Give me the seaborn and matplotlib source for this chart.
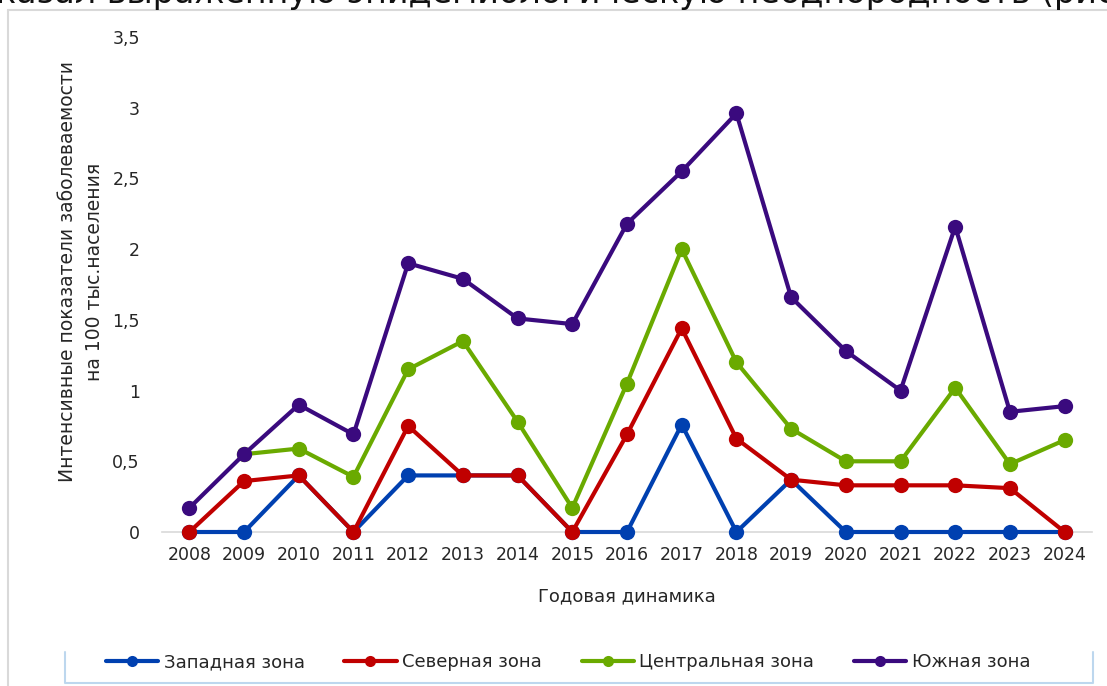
import numpy as np
import pandas as pd
import matplotlib
matplotlib.use("Agg")
import matplotlib.pyplot as plt
import seaborn as sns
from matplotlib.lines import Line2D

years = list(range(2008, 2025))
zones = ["Западная зона", "Северная зона", "Центральная зона", "Южная зона"]
west = [0, 0, 0.40, 0, 0.40, 0.40, 0.40, 0, 0, 0.76, 0, 0.37, 0, 0, 0, 0, 0]
north = [0, 0.36, 0.40, 0, 0.75, 0.40, 0.40, 0, 0.69, 1.44, 0.66, 0.37, 0.33, 0.33, 0.33, 0.31, 0]
central = [np.nan, 0.55, 0.59, 0.39, 1.15, 1.35, 0.78, 0.17, 1.05, 2.00, 1.20, 0.73, 0.50, 0.50, 1.02, 0.48, 0.65]
south = [0.17, 0.55, 0.90, 0.69, 1.90, 1.79, 1.51, 1.47, 2.18, 2.55, 2.96, 1.66, 1.28, 1.00, 2.16, 0.85, 0.89]
yticks = [0, 0.5, 1, 1.5, 2, 2.5, 3, 3.5]
ytick_labels = ["0", "0,5", "1", "1,5", "2", "2,5", "3", "3,5"]
colors = ["#0040B0", "#C00000", "#6AAA00", "#3A0A7E"]

rows = []
for z, vals in zip(zones, [west, north, central, south]):
    for y, v in zip(years, vals):
        rows.append({"Год": y, "Значение": v, "Зона": z})
df = pd.DataFrame(rows)

sns.set_theme(style="white")
plt.rcParams['font.family'] = ['DejaVu Sans']

TXT = "#262626"
W, H = 1107, 686
fig = plt.figure(figsize=(W / 100, H / 100), dpi=100)
ax = fig.add_axes([162 / W, (H - 532) / H, (1092 - 162) / W, (532 - 37) / H])

pal = dict(zip(zones, colors))
sns.lineplot(data=df, x="Год", y="Значение", hue="Зона", palette=pal,
             marker="o", markersize=11, markeredgewidth=0, linewidth=3.0,
             ax=ax, legend=False, sort=False)
for ln in ax.get_lines():
    ln.set_clip_on(False)
    ln.set_zorder(3)

ax.set_xlim(2007.5, 2024.5)
ax.set_ylim(0, 3.5)
ax.set_yticks(yticks)
ax.set_yticklabels(ytick_labels, fontsize=12.5, color=TXT)
ax.set_xticks(years)
ax.set_xticklabels([str(y) for y in years], fontsize=12.5, color=TXT)
ax.set_xticks(np.arange(2007.5, 2025, 1), minor=True)
ax.tick_params(axis="x", which="major", length=0, pad=10)
ax.tick_params(axis="x", which="minor", length=5, color="#D9D9D9", width=1)
ax.tick_params(axis="y", length=0, pad=16)
for s in ["top", "right", "left"]:
    ax.spines[s].set_visible(False)
ax.spines["bottom"].set_color("#D9D9D9")
ax.spines["bottom"].set_linewidth(1.2)
ax.spines["bottom"].set_zorder(1)

ax.set_xlabel("Годовая динамика", fontsize=13, color=TXT)
ax.xaxis.set_label_coords((627 - 162) / 930, -(587 - 532) / 495)
ax.set_ylabel("Интенсивные показатели заболеваемости\nна 100 тыс.населения",
              fontsize=13.5, color=TXT, linespacing=1.55)
ax.yaxis.set_label_coords(-(162 - 104) / 930, (532 - 272) / 495)

# outer chart frame
fig.add_artist(Line2D([8 / W, 8 / W], [0, 1 - 10 / H], color="#D9D9D9", lw=1.5,
                      transform=fig.transFigure))
fig.add_artist(Line2D([8 / W, 1], [1 - 10 / H, 1 - 10 / H], color="#D9D9D9", lw=1.5,
                      transform=fig.transFigure))

# legend box
lx0, lx1, ly0, ly1 = 65 / W, 1093 / W, 1 - 683 / H, 1 - 652 / H
fig.add_artist(Line2D([lx0, lx0, lx1, lx1], [ly1, ly0, ly0, ly1], color="#BDD7EE",
                      lw=1.5, transform=fig.transFigure))
handles = [Line2D([0], [0], color=c, lw=3.0, marker="o", markersize=8,
                  markeredgewidth=0) for c in colors]
fig.legend(handles, zones, loc="center", bbox_to_anchor=(568 / W, 1 - 662 / H),
           ncol=4, frameon=False, fontsize=13, handlelength=2.9,
           columnspacing=2.2, handletextpad=0.3, labelcolor=TXT)

# cut-off text from page above
fig.text(-4 / W, 1 - 3 / H, "казал выраженную эпидемиологическую неоднородность (рис.",
         fontsize=24, color="#111111", va="baseline", ha="left")

fig.savefig("out.png", dpi=100, facecolor="white")
